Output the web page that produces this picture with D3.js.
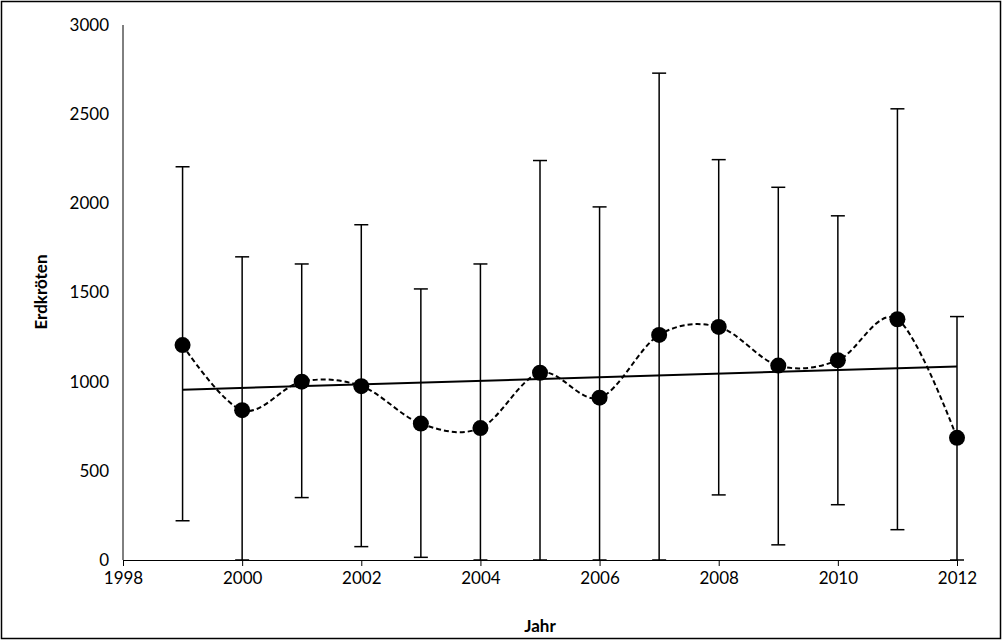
<!DOCTYPE html>
<html><head><meta charset="utf-8">
<script src="https://cdn.jsdelivr.net/npm/d3@7"></script>
<style>body{margin:0;background:#fff}svg{font-family:Lato,"Open Sans",sans-serif}</style>
</head><body>
<svg id="c" width="1002" height="640"></svg>
<script>
var years = [1999,2000,2001,2002,2003,2004,2005,2006,2007,2008,2009,2010,2011,2012];
var means = [1205,840,1000,975,765,740,1050,910,1262,1307,1090,1120,1350,685];
var upper = [2205,1700,1660,1880,1520,1660,2240,1980,2730,2245,2090,1930,2530,1365];
var lower = [220,0,350,75,15,0,0,0,0,365,85,310,170,0];
var trend = [[1999,955],[2012,1085]];
var xTicks = [1998,2000,2002,2004,2006,2008,2010,2012];
var yTicks = [0,500,1000,1500,2000,2500,3000];

var svg = d3.select("#c");
svg.append("rect").attr("x",1.5).attr("y",1.5).attr("width",999).attr("height",637)
  .attr("fill","none").attr("stroke","#000").attr("stroke-width",1.5);

var x = d3.scaleLinear().domain([1998,2012]).range([123,957]);
var y = d3.scaleLinear().domain([0,3000]).range([560,25]);

var g = svg.append("g");
g.append("line").attr("x1",123).attr("x2",123).attr("y1",25).attr("y2",560).attr("stroke","#000");

var xa = g.append("g").attr("transform","translate(0,560)")
  .call(d3.axisBottom(x).tickValues(xTicks).tickFormat(d3.format("d")).tickSize(6).tickPadding(6));
var ya = g.append("g").attr("transform","translate(123,0)")
  .call(d3.axisLeft(y).tickValues(yTicks).tickFormat(d3.format("d")).tickSize(0).tickPadding(14));
ya.select(".domain").remove();
[xa,ya].forEach(function(a){a.selectAll("text").attr("font-size",17).attr("font-family","Lato,sans-serif");});

// error bars
var eb = g.selectAll(".eb").data(years).enter().append("g");
eb.append("line").attr("x1",d=>x(d)).attr("x2",d=>x(d))
  .attr("y1",(d,i)=>y(upper[i])).attr("y2",(d,i)=>y(lower[i])).attr("stroke","#000").attr("stroke-width",1.5);
eb.append("line").attr("x1",d=>x(d)-7).attr("x2",d=>x(d)+7)
  .attr("y1",(d,i)=>y(upper[i])).attr("y2",(d,i)=>y(upper[i])).attr("stroke","#000").attr("stroke-width",1.5);
eb.append("line").attr("x1",d=>x(d)-7).attr("x2",d=>x(d)+7)
  .attr("y1",(d,i)=>y(lower[i])).attr("y2",(d,i)=>y(lower[i])).attr("stroke","#000").attr("stroke-width",1.5);

// trend
g.append("line").attr("x1",x(trend[0][0])).attr("y1",y(trend[0][1]))
  .attr("x2",x(trend[1][0])).attr("y2",y(trend[1][1])).attr("stroke","#000").attr("stroke-width",2);

// smoothed dashed line
var line = d3.line().x((d,i)=>x(years[i])).y(d=>y(d)).curve(d3.curveCardinal.tension(0));
g.append("path").attr("d",line(means)).attr("fill","none").attr("stroke","#000")
  .attr("stroke-width",2).attr("stroke-dasharray","5,3");

g.selectAll(".pt").data(means).enter().append("circle")
  .attr("cx",(d,i)=>x(years[i])).attr("cy",d=>y(d)).attr("r",8).attr("fill","#000");

svg.append("text").attr("x",540).attr("y",632).attr("text-anchor","middle")
  .attr("font-weight","bold").attr("font-size",17).text("Jahr");
svg.append("text").attr("transform","translate(47,292) rotate(-90)").attr("text-anchor","middle")
  .attr("font-weight","bold").attr("font-size",17).text("Erdkröten");
</script>
</body></html>
